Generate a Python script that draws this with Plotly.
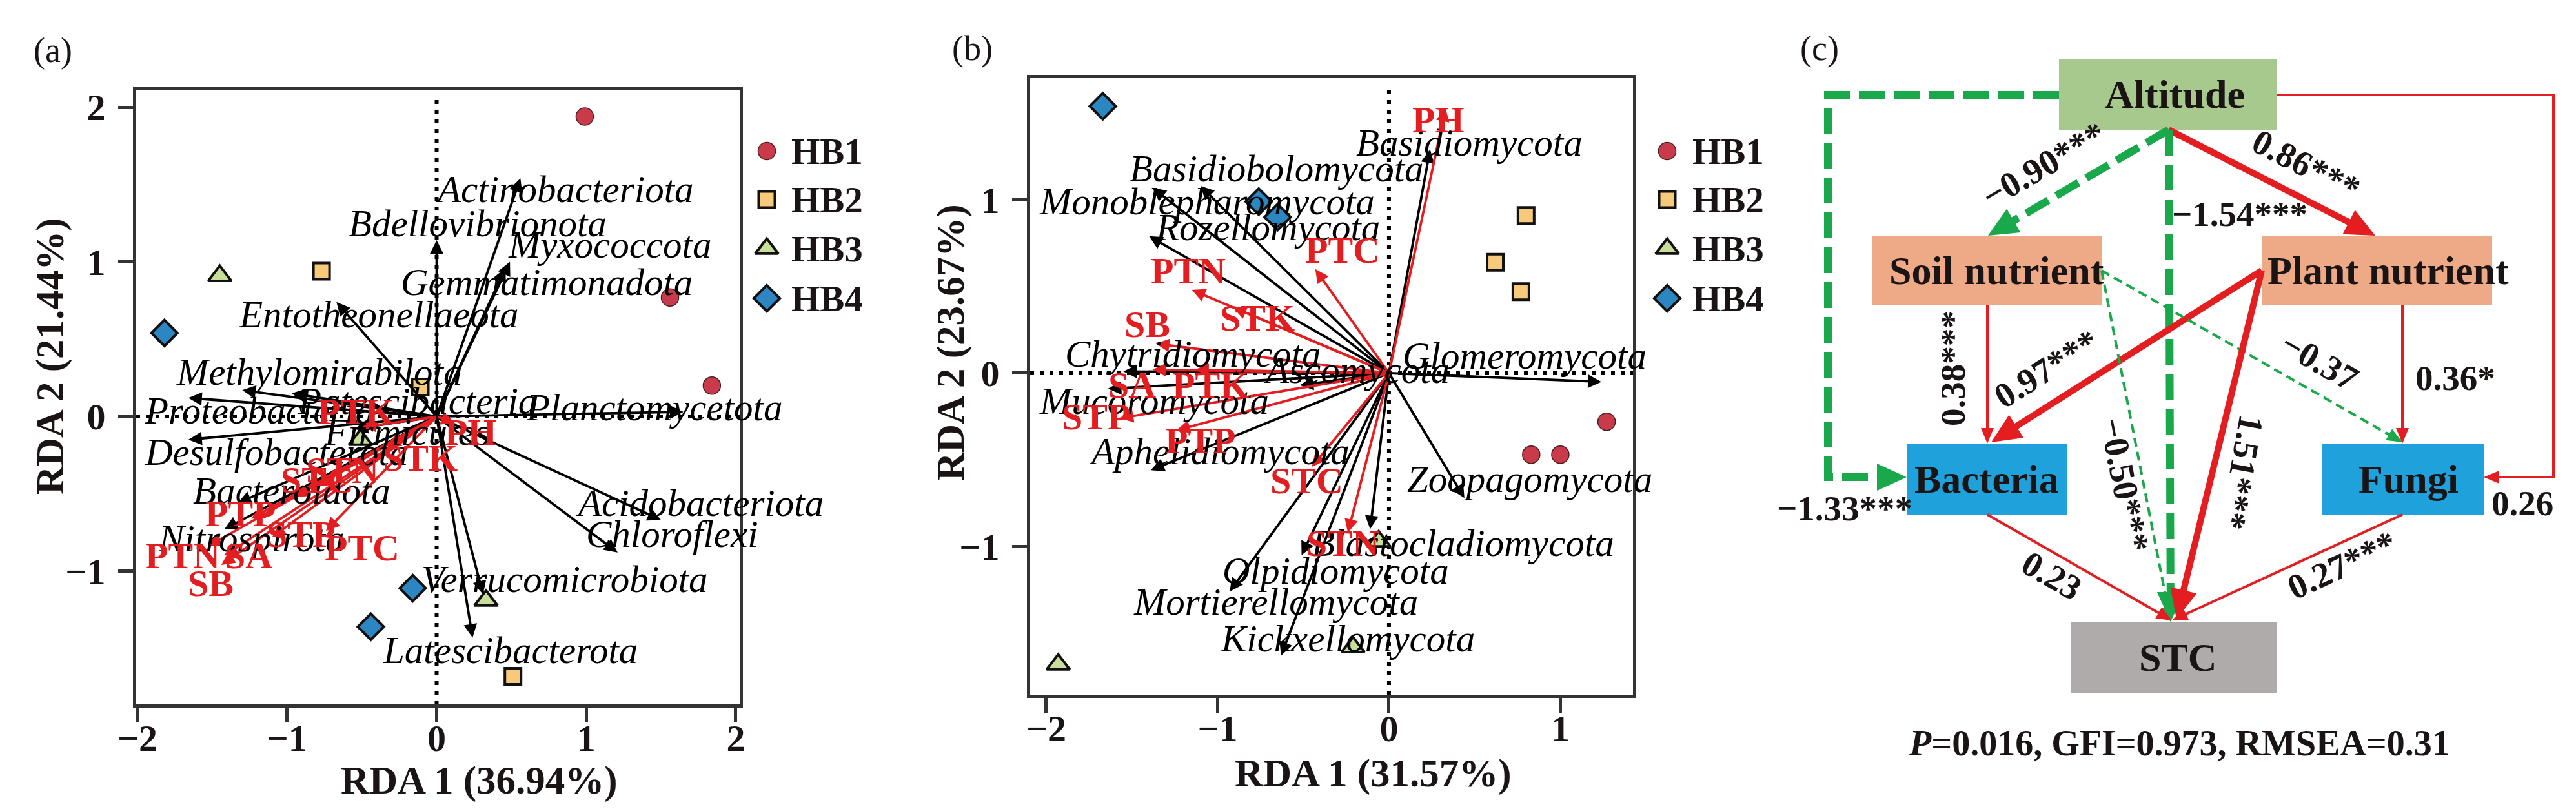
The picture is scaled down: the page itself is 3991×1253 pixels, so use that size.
import math
import plotly.graph_objects as go

W, H = 3991, 1253
SERIF = "Liberation Serif"
RED = "#e41e20"
GREEN = "#19a84a"
AXC = "#333333"
TXT = "#1a1414"

# ---------------- data: panel (a) bacteria RDA ----------------
groups = ["HB1", "HB2", "HB3", "HB4"]
a_hb1_x = [0.99, 1.56, 1.84]
a_hb1_y = [1.94, 0.77, 0.20]
a_hb2_x = [-0.77, -0.11, 0.51]
a_hb2_y = [0.94, 0.19, -1.68]
a_hb3_x = [-1.45, -0.51, 0.33]
a_hb3_y = [0.91, -0.15, -1.19]
a_hb4_x = [-1.82, -0.16, -0.44]
a_hb4_y = [0.54, -1.11, -1.36]

a_taxa = ["Actinobacteriota", "Bdellovibrionota", "Myxococcota", "Gemmatimonadota",
          "Entotheonellaeota", "Methylomirabilota", "Patescibacteria", "Proteobacteria",
          "Planctomycetota", "Desulfobacterota", "Firmicutes", "Bacteroidota",
          "Nitrospirota", "Acidobacteriota", "Chloroflexi", "Verrucomicrobiota",
          "Latescibacterota"]
a_taxa_x = [0.56, 0.00, 0.49, 0.46, -0.67, -1.30, -0.97, -1.66, 1.65, -1.66, -0.55,
            -1.33, -1.42, 1.50, 1.21, 0.31, 0.24]
a_taxa_y = [1.54, 1.14, 1.00, 0.96, 0.74, 0.17, 0.15, 0.12, 0.03, -0.15, -0.08,
            -0.56, -0.73, -0.67, -0.88, -1.15, -1.43]
a_taxa_lx = [-0.02, -0.60, 0.47, -0.25, -1.33, -1.75, -0.94, -1.96, 0.59, -1.96, -0.76,
             -1.64, -1.87, 0.92, 0.99, -0.11, -0.37]
a_taxa_ly = [1.47, 1.25, 1.11, 0.87, 0.66, 0.29, 0.10, 0.04, 0.06, -0.23, -0.10,
             -0.48, -0.79, -0.56, -0.76, -1.05, -1.51]

a_env = ["PTK", "PH", "STK", "STC", "STN", "PTP", "STP", "PTC", "PTN", "SA", "SB"]
a_env_x = [-0.50, 0.12, -0.33, -0.95, -0.80, -1.24, -1.10, -0.74, -1.53, -1.42, -1.44]
a_env_y = [-0.07, -0.04, -0.20, -0.52, -0.45, -0.66, -0.78, -0.74, -0.84, -0.90, -0.96]
a_env_lx = [-0.54, 0.23, -0.11, -0.80, -0.63, -1.31, -0.91, -0.50, -1.70, -1.26, -1.51]
a_env_ly = [0.03, -0.10, -0.27, -0.41, -0.35, -0.63, -0.76, -0.85, -0.90, -0.90, -1.08]

# ---------------- data: panel (b) fungi RDA ----------------
b_hb1_x = [1.27, 0.83, 1.00]
b_hb1_y = [-0.28, -0.47, -0.47]
b_hb2_x = [0.80, 0.62, 0.77]
b_hb2_y = [0.91, 0.64, 0.47]
b_hb3_x = [-1.93, -0.21, -0.06]
b_hb3_y = [-1.68, -1.58, -0.97]
b_hb4_x = [-1.67, -0.76, -0.65]
b_hb4_y = [1.54, 0.99, 0.90]

b_taxa = ["Basidiomycota", "Basidiobolomycota", "Monoblepharomycota", "Rozellomycota",
          "Chytridiomycota", "Ascomycota", "Mucoromycota", "Aphelidiomycota",
          "Glomeromycota", "Zoopagomycota", "Blastocladiomycota", "Olpidiomycota",
          "Mortierellomycota", "Kickxellomycota"]
b_taxa_x = [0.24, -1.10, -1.38, -1.40, -1.55, -0.52, -1.64, -1.39, 1.24, 0.44, -0.11,
            -0.51, -0.93, -0.63]
b_taxa_y = [1.29, 1.08, 1.07, 0.79, 0.01, -0.07, -0.09, -0.56, -0.05, -0.72, -0.90,
            -1.05, -1.26, -1.63]
b_taxa_lx = [-0.20, -1.52, -2.05, -1.37, -1.90, -0.74, -2.05, -1.76, 0.07, 0.10, -0.46,
             -0.98, -1.50, -0.99]
b_taxa_ly = [1.33, 1.18, 0.99, 0.84, 0.11, 0.02, -0.16, -0.45, 0.10, -0.61, -0.98,
             -1.14, -1.32, -1.53]

b_env = ["PH", "PTC", "PTN", "STK", "SB", "SA", "PTK", "STP", "PTP", "STC", "STN"]
b_env_x = [0.33, -0.43, -1.15, -0.91, -1.36, -1.38, -1.13, -1.57, -1.24, -0.45, -0.24]
b_env_y = [1.53, 0.60, 0.48, 0.38, 0.17, 0.02, 0.02, -0.26, -0.33, -0.54, -0.92]
b_env_lx = [0.29, -0.27, -1.17, -0.77, -1.41, -1.50, -1.04, -1.71, -1.10, -0.48, -0.27]
b_env_ly = [1.46, 0.71, 0.59, 0.32, 0.28, -0.07, -0.07, -0.25, -0.39, -0.62, -0.98]

# ---------------- data: panel (c) SEM ----------------
sem_nodes = ["Altitude", "Soil nutrient", "Plant nutrient", "Bacteria", "Fungi", "STC"]
sem_from = ["Altitude", "Altitude", "Altitude", "Altitude", "Soil nutrient",
            "Plant nutrient", "Soil nutrient", "Soil nutrient", "Plant nutrient",
            "Plant nutrient", "Altitude", "Bacteria", "Fungi"]
sem_to = ["Bacteria", "Soil nutrient", "Plant nutrient", "STC", "Bacteria", "Bacteria",
          "STC", "Fungi", "STC", "Fungi", "Fungi", "STC", "STC"]
sem_coef = [-1.33, -0.90, 0.86, -1.54, 0.38, 0.97, -0.50, -0.37, 1.51, 0.36, 0.26, 0.23, 0.27]
sem_sig = ["***", "***", "***", "***", "***", "***", "***", "", "***", "*", "", "", "***"]
fit_p, fit_gfi, fit_rmsea = "0.016", "0.973", "0.31"

# ---------------- styles / layout constants ----------------
G_SYMBOL = {"HB1": "circle", "HB2": "square", "HB3": "triangle-up", "HB4": "diamond"}
G_FILL = {"HB1": "#c93a4b", "HB2": "#f6c97b", "HB3": "#c9df99", "HB4": "#2b86c2"}
G_LINE = {"HB1": ("#4a2020", 1.5), "HB2": ("#111111", 4), "HB3": ("#111111", 4),
          "HB4": ("#111111", 4)}
G_SIZE = {"HB1": 27, "HB2": 25, "HB3": 31, "HB4": 31}

fig = go.Figure()


def add_sites(xs_list, ys_list, xa, ya):
    for g, xs, ys in zip(groups, xs_list, ys_list):
        fig.add_trace(go.Scatter(
            x=xs, y=ys, mode="markers", xaxis=xa, yaxis=ya, showlegend=False,
            hoverinfo="skip",
            marker=dict(symbol=G_SYMBOL[g], size=G_SIZE[g], color=G_FILL[g],
                        line=dict(color=G_LINE[g][0], width=G_LINE[g][1]))))


add_sites([a_hb1_x, a_hb2_x, a_hb3_x, a_hb4_x], [a_hb1_y, a_hb2_y, a_hb3_y, a_hb4_y], "x", "y")
add_sites([b_hb1_x, b_hb2_x, b_hb3_x, b_hb4_x], [b_hb1_y, b_hb2_y, b_hb3_y, b_hb4_y], "x2", "y2")

# manual legends on a full-figure pixel overlay axis (x3/y3)
LEG_Y = [226, 301, 377, 454]
LEG_POS = [(1180, 1216), (2575, 2612)]
annotations = []
for mx, tx in LEG_POS:
    for g, ly in zip(groups, LEG_Y):
        fig.add_trace(go.Scatter(
            x=[mx], y=[ly], mode="markers", xaxis="x3", yaxis="y3", showlegend=False,
            hoverinfo="skip",
            marker=dict(symbol=G_SYMBOL[g], size=G_SIZE[g], color=G_FILL[g],
                        line=dict(color=G_LINE[g][0], width=G_LINE[g][1]))))
        annotations.append(dict(x=tx, y=ly, xref="x3", yref="y3", text=g, showarrow=False,
                                xanchor="left", yanchor="middle",
                                font=dict(family=SERIF, size=57, color=TXT, weight="bold")))

shapes = []


def rda_panel(xr, yr, taxa, tx, ty, tlx, tly, env, ex, ey, elx, ely):
    # zero lines
    shapes.append(dict(type="line", xref=xr, yref=yr + " domain", x0=0, x1=0, y0=0, y1=0.985,
                       line=dict(color="black", width=6, dash="6px,9px"), layer="below"))
    shapes.append(dict(type="line", xref=xr + " domain", yref=yr, x0=0, x1=1, y0=0, y1=0,
                       line=dict(color="black", width=6, dash="6px,9px"), layer="below"))
    for x, y in zip(tx, ty):
        annotations.append(dict(x=x, y=y, ax=0, ay=0, xref=xr, yref=yr, axref=xr, ayref=yr,
                                text="", showarrow=True, arrowhead=2, arrowsize=1.1,
                                arrowwidth=3.8, arrowcolor="black"))
    for x, y in zip(ex, ey):
        annotations.append(dict(x=x, y=y, ax=0, ay=0, xref=xr, yref=yr, axref=xr, ayref=yr,
                                text="", showarrow=True, arrowhead=2, arrowsize=1.1,
                                arrowwidth=3.8, arrowcolor=RED))
    for name, x, y in zip(taxa, tlx, tly):
        annotations.append(dict(x=x, y=y, xref=xr, yref=yr, text=name, showarrow=False,
                                xanchor="left", yanchor="middle",
                                font=dict(family=SERIF, size=59, color="black", style="italic")))
    for name, x, y in zip(env, elx, ely):
        annotations.append(dict(x=x, y=y, xref=xr, yref=yr, text=name, showarrow=False,
                                xanchor="center", yanchor="middle",
                                font=dict(family=SERIF, size=58, color=RED, weight="bold")))


rda_panel("x", "y", a_taxa, a_taxa_x, a_taxa_y, a_taxa_lx, a_taxa_ly,
          a_env, a_env_x, a_env_y, a_env_lx, a_env_ly)
rda_panel("x2", "y2", b_taxa, b_taxa_x, b_taxa_y, b_taxa_lx, b_taxa_ly,
          b_env, b_env_x, b_env_y, b_env_lx, b_env_ly)

# axis titles and panel tags (pixel overlay)
TITLE_FONT = dict(family=SERIF, size=61, color=TXT, weight="bold")
for text, x, y, ang in [("RDA 1 (36.94%)", 734, 1201, 0), ("RDA 2 (21.44%)", 70, 544, -90),
                        ("RDA 1 (31.57%)", 2119, 1190, 0), ("RDA 2 (23.67%)", 1465, 523, -90)]:
    annotations.append(dict(x=x, y=y, xref="x3", yref="y3", text=text, showarrow=False,
                            textangle=ang, font=TITLE_FONT))
for text, x, y in [("(a)", 74, 70), ("(b)", 1498, 67), ("(c)", 2811, 67)]:
    annotations.append(dict(x=x, y=y, xref="x3", yref="y3", text=text, showarrow=False,
                            font=dict(family=SERIF, size=54, color=TXT)))

# ---------------- panel (c) SEM diagram ----------------
BOX = {"Altitude": (3182, 83, 3520, 193), "Soil nutrient": (2893, 357, 3248, 465),
       "Plant nutrient": (3496, 357, 3853, 465), "Bacteria": (2946, 679, 3194, 789),
       "Fungi": (3590, 679, 3840, 789), "STC": (3201, 955, 3520, 1065)}
BOX_FILL = {"Altitude": "#a8c98e", "Soil nutrient": "#eeaa86", "Plant nutrient": "#eeaa86",
            "Bacteria": "#1fa1dc", "Fungi": "#1fa1dc", "STC": "#afabab"}
TEXT_DX = {"Altitude": 10, "Soil nutrient": 15, "Plant nutrient": 17, "Bacteria": 0,
           "Fungi": 8, "STC": 6}
for n in sem_nodes:
    x0, y0, x1, y1 = BOX[n]
    shapes.append(dict(type="rect", xref="x3", yref="y3", x0=x0, y0=y0, x1=x1, y1=y1,
                       fillcolor=BOX_FILL[n], line=dict(width=0), layer="below"))
    annotations.append(dict(x=(x0 + x1) / 2 + TEXT_DX[n], y=(y0 + y1) / 2, xref="x3", yref="y3",
                            text=n, showarrow=False,
                            font=dict(family=SERIF, size=62, color=TXT, weight="bold")))

ROUTES = [
    [(3182, 139), (2824, 139), (2824, 731), (2946, 731)],
    [(3352, 193), (3072, 357)],
    [(3352, 193), (3672, 357)],
    [(3352, 193), (3355, 955)],
    [(3071, 465), (3071, 679)],
    [(3496, 411), (3077, 677)],
    [(3248, 411), (3355, 955)],
    [(3248, 411), (3714, 677)],
    [(3496, 411), (3364, 951)],
    [(3714, 465), (3714, 679)],
    [(3520, 139), (3948, 139), (3948, 731), (3840, 731)],
    [(3071, 789), (3357, 953)],
    [(3714, 789), (3357, 953)],
]
LABELS = [(2850, 779, 0), (3158, 247, -30), (3565, 247, 27), (3462, 323, 0),
          (3017, 563, -90), (3162, 563, -32), (3284, 743, 79), (3586, 551, 30),
          (3466, 723, 100), (3796, 577, 0), (3900, 771, 0), (3171, 883, 30),
          (3620, 867, -25)]


def fmt(v):
    s = f"{v:.2f}"
    return s.replace("-", "\u2212")


for route, coef, sig, lab in zip(ROUTES, sem_coef, sem_sig, LABELS):
    neg = coef < 0
    thick = abs(coef) >= 0.8
    color = GREEN if neg else RED
    width = (12 if neg else 10) if thick else 4
    hl, hw = (46, 42) if thick else (24, 20)
    dash = ("40px,14px" if thick else "14px,8px") if neg else "solid"
    (px, py), (tx, ty) = route[-2], route[-1]
    L = math.hypot(tx - px, ty - py)
    ux, uy = (tx - px) / L, (ty - py) / L
    bx, by = tx - ux * hl * 0.85, ty - uy * hl * 0.85
    pts = route[:-1] + [(bx, by)]
    path = "M " + " L ".join(f"{x:.1f},{y:.1f}" for x, y in pts)
    shapes.append(dict(type="path", xref="x3", yref="y3", path=path,
                       line=dict(color=color, width=width, dash=dash),
                       fillcolor="rgba(0,0,0,0)"))
    hx, hy = tx - ux * hl, ty - uy * hl
    nx, ny = -uy, ux
    tri = (f"M {tx:.1f},{ty:.1f} L {hx + nx * hw / 2:.1f},{hy + ny * hw / 2:.1f} "
           f"L {hx - nx * hw / 2:.1f},{hy - ny * hw / 2:.1f} Z")
    shapes.append(dict(type="path", xref="x3", yref="y3", path=tri, fillcolor=color,
                       line=dict(width=0)))
    annotations.append(dict(x=lab[0], y=lab[1], xref="x3", yref="y3", text=fmt(coef) + sig,
                            showarrow=False, textangle=lab[2],
                            font=dict(family=SERIF, size=55, color=TXT, weight="bold")))

annotations.append(dict(x=3368, y=1143, xref="x3", yref="y3",
                        text=f"<i>P</i>={fit_p}, GFI={fit_gfi}, RMSEA={fit_rmsea}",
                        showarrow=False,
                        font=dict(family=SERIF, size=56, color=TXT, weight="bold")))

# dummy to instantiate overlay axis
fig.add_trace(go.Scatter(x=[0], y=[0], xaxis="x3", yaxis="y3", mode="markers",
                         marker=dict(opacity=0), showlegend=False, hoverinfo="skip"))


def axis(domain, rng, ticks, anchor, standoff):
    return dict(domain=domain, range=rng, tickvals=ticks, anchor=anchor, showline=True,
                mirror=True, linewidth=5, linecolor=AXC, ticks="outside", ticklen=23,
                tickwidth=5, tickcolor=AXC, showgrid=False, zeroline=False,
                automargin=False, ticklabelstandoff=standoff,
                tickfont=dict(family=SERIF, size=58, color=TXT, weight="bold"))


fig.update_layout(
    width=W, height=H, margin=dict(l=0, r=0, t=0, b=0, pad=0), autosize=False,
    paper_bgcolor="white", plot_bgcolor="rgba(0,0,0,0)",
    showlegend=False,
    xaxis=axis([203 / W, 1138 / W], [-2.009, 2.026], [-2, -1, 0, 1, 2], "y", -26),
    yaxis=axis([(H - 1083) / H, (H - 132) / H], [-1.862, 2.109], [-1, 0, 1, 2], "x", 8),
    xaxis2=axis([1588 / W, 2522 / W], [-2.094, 1.424], [-2, -1, 0, 1], "y2", -26),
    yaxis2=axis([(H - 1068) / H, (H - 113) / H], [-1.855, 1.702], [-1, 0, 1], "x2", 8),
    xaxis3=dict(domain=[0, 1], range=[0, W], anchor="y3", visible=False, fixedrange=True,
                automargin=False),
    yaxis3=dict(domain=[0, 1], range=[H, 0], anchor="x3", visible=False, fixedrange=True,
                automargin=False),
    shapes=shapes, annotations=annotations,
)

fig.write_html("out.html")
